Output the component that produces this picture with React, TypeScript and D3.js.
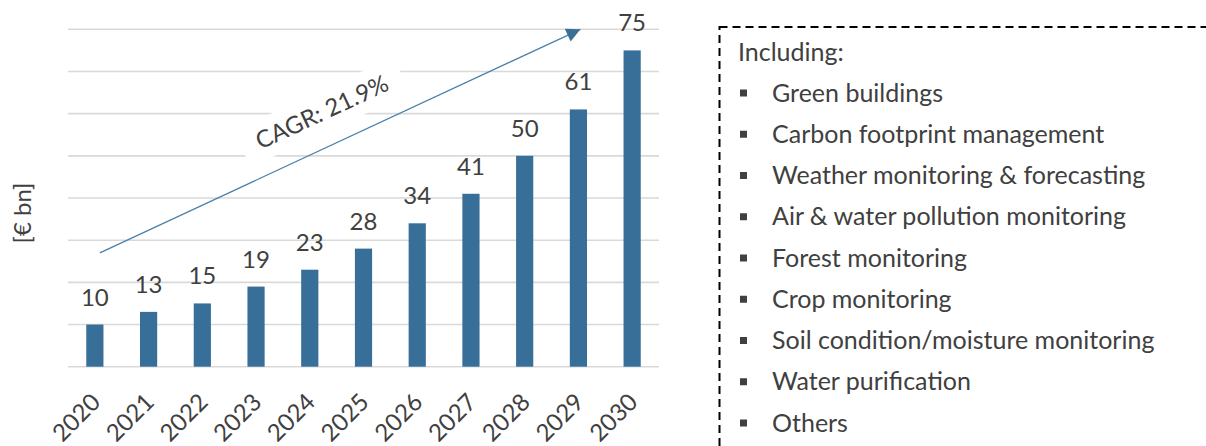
import * as d3 from "d3";
import { useEffect, useRef } from "react";

const years = ["2020", "2021", "2022", "2023", "2024", "2025", "2026", "2027", "2028", "2029", "2030"];
const values = [10, 13, 15, 19, 23, 28, 34, 41, 50, 61, 75];
const yTicks = [0, 10, 20, 30, 40, 50, 60, 70, 80];
const cagrLabel = "CAGR: 21.9%";
const axisLabel = "[€ bn]";
const listTitle = "Including:";
const listItems = [
    "Green buildings",
    "Carbon footprint management",
    "Weather monitoring & forecasting",
    "Air & water pollution monitoring",
    "Forest monitoring",
    "Crop monitoring",
    "Soil condition/moisture monitoring",
    "Water purification",
    "Others",
];
// arrow annotation, given in chart units
const arrowFrom = { year: "2020", value: 27 };
const arrowTo = { year: "2029", value: 80 };

const FONT = "Lato, 'Open Sans', sans-serif";
const TEXT = "#404040";
const BAR = "#386f99";

export default function App() {
    const ref = useRef(null);
    const width = 1206,
        height = 446;

    useEffect(() => {
        document.body.style.margin = "0";
        const svg = d3.select(ref.current);
        svg.selectAll("*").remove();

        const x = d3.scaleBand().domain(years).range([68, 659]).paddingInner(0.68).paddingOuter(0.34);
        const y = d3.scaleLinear().domain([0, 80]).range([366.7, 29.3]);
        const cx = (d: string) => x(d)! + x.bandwidth() / 2;

        const g = svg.append("g");

        // gridlines
        g.selectAll("line.grid")
            .data(yTicks)
            .join("line")
            .attr("x1", 68)
            .attr("x2", 659)
            .attr("y1", (d) => y(d))
            .attr("y2", (d) => y(d))
            .attr("stroke", "#d9d9d9")
            .attr("stroke-width", 1.6);

        // bars
        g.selectAll("rect.bar")
            .data(values)
            .join("rect")
            .attr("x", (_d, i) => x(years[i])!)
            .attr("width", x.bandwidth())
            .attr("y", (d) => y(d))
            .attr("height", (d) => y(0) - y(d))
            .attr("fill", BAR);

        // value labels
        g.selectAll("text.val")
            .data(values)
            .join("text")
            .attr("x", (_d, i) => cx(years[i]))
            .attr("y", (d) => y(d) - 19)
            .attr("text-anchor", "middle")
            .style("font-family", FONT)
            .style("font-size", "24px")
            .attr("fill", TEXT)
            .text((d) => d);

        // year labels
        g.selectAll("text.year")
            .data(years)
            .join("text")
            .attr("transform", (d) => `translate(${cx(d) + 1}, ${y(0) + 31}) rotate(-45)`)
            .attr("text-anchor", "end")
            .attr("dy", "0.35em")
            .style("font-family", FONT)
            .style("font-size", "24px")
            .attr("fill", TEXT)
            .text((d) => d);

        // y axis title
        g.append("text")
            .attr("transform", `translate(23, 213) rotate(-90)`)
            .attr("text-anchor", "middle")
            .attr("dy", "0.35em")
            .style("font-family", FONT)
            .style("font-size", "24px")
            .attr("fill", TEXT)
            .text(axisLabel);

        // CAGR arrow
        const x0 = cx(arrowFrom.year) + 5;
        const y0 = y(arrowFrom.value);
        const x1 = cx(arrowTo.year) + 2;
        const y1 = y(arrowTo.value);
        const angle = (Math.atan2(y1 - y0, x1 - x0) * 180) / Math.PI;

        svg.append("defs")
            .append("marker")
            .attr("id", "arrowhead")
            .attr("viewBox", "0 0 10 10")
            .attr("refX", 10)
            .attr("refY", 5)
            .attr("markerUnits", "userSpaceOnUse")
            .attr("markerWidth", 18)
            .attr("markerHeight", 14)
            .attr("orient", "auto")
            .append("path")
            .attr("d", "M0,0 L10,5 L0,10 Z")
            .attr("fill", "#3a6f98");

        // white label box behind the CAGR text
        const tx = 322, ty = 112;
        const cagr = g.append("g").attr("transform", `translate(${tx}, ${ty}) rotate(${angle})`);
        cagr.append("rect")
            .attr("x", -88)
            .attr("y", -20)
            .attr("width", 176)
            .attr("height", 40)
            .attr("fill", "#fff");

        g.append("line")
            .attr("x1", x0)
            .attr("y1", y0)
            .attr("x2", x1)
            .attr("y2", y1)
            .attr("stroke", "#4a80aa")
            .attr("stroke-width", 1.3)
            .attr("marker-end", "url(#arrowhead)");

        cagr.append("text")
            .attr("text-anchor", "middle")
            .attr("dy", "0.35em")
            .style("font-family", FONT)
            .style("font-size", "24px")
            .attr("fill", TEXT)
            .text(cagrLabel);

        // dashed box with list
        const box = svg.append("g");
        box.append("rect")
            .attr("x", 719.5)
            .attr("y", 27)
            .attr("width", 600)
            .attr("height", 500)
            .attr("fill", "none")
            .attr("stroke", "#000")
            .attr("stroke-width", 2)
            .attr("stroke-dasharray", "8,5");

        box.append("text")
            .attr("x", 738)
            .attr("y", 61)
            .style("font-family", FONT)
            .style("font-size", "25px")
            .attr("fill", TEXT)
            .text(listTitle);

        const rows = d3.scaleLinear().domain([0, listItems.length - 1]).range([101.5, 431.5]);

        box.selectAll("rect.bullet")
            .data(listItems)
            .join("rect")
            .attr("x", 740)
            .attr("y", (_d, i) => rows(i) - 12)
            .attr("width", 7)
            .attr("height", 7)
            .attr("fill", TEXT);

        box.selectAll("text.item")
            .data(listItems)
            .join("text")
            .attr("x", 772)
            .attr("y", (_d, i) => rows(i))
            .style("font-family", FONT)
            .style("font-size", "25px")
            .attr("fill", TEXT)
            .text((d) => d);
    }, []);

    return (
        <div>
            <svg ref={ref} width={width} height={height} style={{ display: "block" }}></svg>
        </div>
    );
}
